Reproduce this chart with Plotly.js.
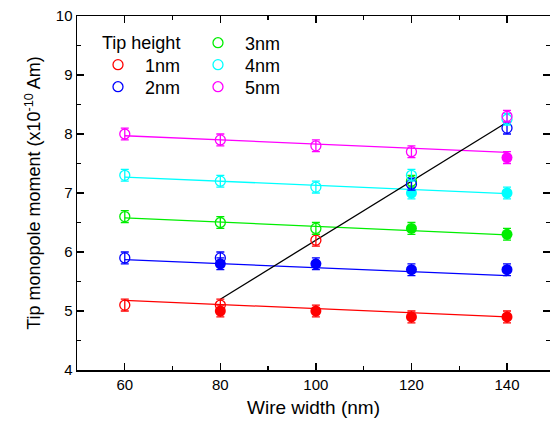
<!DOCTYPE html>
<html>
<head>
<meta charset="utf-8">
<script src="https://cdn.plot.ly/plotly-3.0.1.min.js"></script>
<style>html,body{margin:0;padding:0;background:#fff;}#chart{width:550px;height:424px;}</style>
</head>
<body>
<div id="chart"></div>
<script>
// ---- data ----
const seriesNames = ["1nm", "2nm", "3nm", "4nm", "5nm"];
const seriesColors = ["#ff0000", "#0000ff", "#00ee00", "#00ffff", "#ff00ff"];

// open circles
const openX = [
  [60, 80, 100],
  [60, 80, 120, 140],
  [60, 80, 100, 120],
  [60, 80, 100, 120, 140],
  [60, 80, 100, 120, 140]
];
const openY = [
  [5.1, 5.1, 6.2],
  [5.9, 5.9, 7.15, 8.1],
  [6.6, 6.5, 6.4, 7.2],
  [7.3, 7.2, 7.1, 7.3, 8.25],
  [8.0, 7.9, 7.8, 7.7, 8.3]
];
// filled circles
const filledX = [
  [80, 100, 120, 140],
  [80, 100, 120, 140],
  [120, 140],
  [120, 140],
  [140]
];
const filledY = [
  [5.0, 5.0, 4.9, 4.9],
  [5.8, 5.8, 5.7, 5.7],
  [6.4, 6.3],
  [7.0, 7.0],
  [7.6]
];
const errorVal = 0.1;

// linear fit lines (values at x = 60 and x = 140)
const fitX = [60, 140];
const fitY = [
  [5.18, 4.90],
  [5.87, 5.60],
  [6.58, 6.29],
  [7.27, 6.99],
  [7.97, 7.69]
];
// black transition line
const blackX = [80, 140];
const blackY = [5.2, 8.2];

const xTitle = "Wire width (nm)";
const yTitle = "Tip monopole moment (x10<sup>-10</sup> Am)";
const legendTitle = "Tip height";

// ---- traces ----
const FONT = "Liberation Sans, Arial, sans-serif";
const traces = [];
for (let i = 0; i < seriesNames.length; i++) {
  traces.push({
    x: fitX, y: fitY[i], mode: "lines", type: "scatter",
    line: {color: seriesColors[i], width: 1.3},
    showlegend: false, hoverinfo: "skip"
  });
}
traces.push({
  x: blackX, y: blackY, mode: "lines", type: "scatter",
  line: {color: "#000000", width: 1.3}, showlegend: false
});
for (let i = 0; i < seriesNames.length; i++) {
  traces.push({
    x: filledX[i], y: filledY[i], mode: "markers", type: "scatter",
    marker: {symbol: "circle", size: 11, color: seriesColors[i]},
    error_y: {type: "constant", value: errorVal, color: seriesColors[i], thickness: 1.3, width: 4},
    showlegend: false
  });
}
const drawOrder = [0, 2, 1, 3, 4];
const legendIds = ["legend", "legend2", "legend3", "legend4", "legend5"];
drawOrder.forEach(function (i) {
  traces.push({
    x: openX[i], y: openY[i], mode: "markers", type: "scatter",
    name: seriesNames[i],
    legend: legendIds[i],
    marker: {symbol: "circle-open", size: 10, color: seriesColors[i], line: {width: 1.3}},
    error_y: {type: "constant", value: errorVal, color: seriesColors[i], thickness: 1.3, width: 4}
  });
});

// legend placement (paper coords): column 1 -> 1nm, 2nm ; column 2 -> 3nm, 4nm, 5nm
const rowY = [0.9237, 0.8616, 0.7994];
const colX = [0.0296, 0.241];
const legendPos = [[0, 1], [0, 2], [1, 0], [1, 1], [1, 2]];

const tickFont = {family: FONT, size: 15, color: "#000"};
const layout = {
  width: 550, height: 424,
  margin: {l: 77, r: 0, t: 16, b: 54},
  paper_bgcolor: "#fff", plot_bgcolor: "#fff",
  font: {family: FONT, color: "#000"},
  xaxis: {
    range: [50, 149], dtick: 20, tick0: 0,
    ticks: "inside", ticklen: 7, tickwidth: 1.3, tickcolor: "#000",
    minor: {dtick: 10, ticks: "inside", ticklen: 4, tickwidth: 1.3, tickcolor: "#000"},
    showline: true, linecolor: "#000", linewidth: 1.5, mirror: "ticks",
    showgrid: false, zeroline: false, tickfont: tickFont,
    title: {text: xTitle, font: {size: 19, family: FONT}, standoff: 9}
  },
  yaxis: {
    range: [4, 10], dtick: 1,
    ticks: "inside", ticklen: 7, tickwidth: 1.3, tickcolor: "#000",
    minor: {dtick: 0.5, ticks: "inside", ticklen: 4, tickwidth: 1.3, tickcolor: "#000"},
    showline: true, linecolor: "#000", linewidth: 1.5, mirror: "ticks",
    showgrid: false, zeroline: false, tickfont: tickFont,
    title: {text: yTitle, font: {size: 18, family: FONT}, standoff: 10}
  },
  annotations: [{
    text: legendTitle, xref: "paper", yref: "paper",
    x: 0.0486, y: rowY[0], xanchor: "left", yanchor: "middle",
    showarrow: false, font: {size: 18, family: FONT, color: "#000"}
  }],
  showlegend: true
};
for (let i = 0; i < 5; i++) {
  const p = legendPos[i];
  layout[legendIds[i]] = {
    x: colX[p[0]], y: rowY[p[1]], xanchor: "left", yanchor: "middle",
    bgcolor: "rgba(0,0,0,0)", borderwidth: 0,
    font: {size: 18, family: FONT, color: "#000"},
    itemwidth: 44
  };
}

Plotly.newPlot("chart", traces, layout, {displayModeBar: false, staticPlot: true});
</script>
</body>
</html>
